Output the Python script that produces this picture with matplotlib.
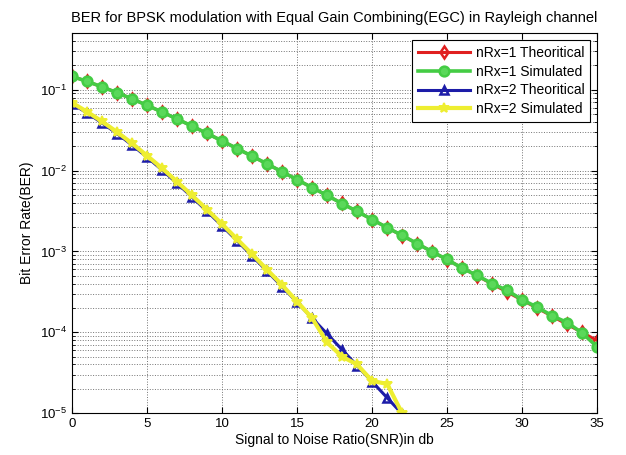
import matplotlib.pyplot as plt
import numpy as np

plt.rcParams['font.family'] = ['Liberation Sans', 'DejaVu Sans']

# Eb/N0 in dB
snr_db = list(range(0, 36))

# nRx=1 theoretical BER
ber_th1 = [0.1464, 0.1267, 0.1085, 0.0919, 0.0771, 0.0642, 0.0530, 0.0435, 0.0355,
           0.0288, 0.0233, 0.01875, 0.01507, 0.01208, 0.00967, 0.00772, 0.00616,
           0.00492, 0.00392, 0.00312, 0.00248, 0.00197, 0.00157, 0.00125, 0.000992,
           0.000789, 0.000627, 0.000498, 0.000396, 0.000315, 0.000250, 0.000199,
           0.000158, 0.000125, 0.0000995, 0.0000790]
# nRx=1 simulated BER
ber_sim1 = [0.1462, 0.1268, 0.1086, 0.0918, 0.0772, 0.0642, 0.0530, 0.0435, 0.0355,
            0.0288, 0.0233, 0.0187, 0.0151, 0.0121, 0.00965, 0.00773, 0.00615,
            0.00493, 0.00390, 0.00313, 0.00248, 0.00197, 0.00158, 0.00125, 0.000990,
            0.000795, 0.000620, 0.000505, 0.000400, 0.000330, 0.000252, 0.000205,
            0.000160, 0.000132, 0.000098, 0.000066]

# nRx=2 theoretical BER (EGC)
ber_th2 = [0.0670, 0.0517, 0.0389, 0.0287, 0.0207, 0.01465, 0.01018, 0.00697, 0.00470,
           0.00314, 0.00207, 0.001356, 0.000881, 0.000570, 0.000367, 0.000235,
           0.000150, 0.0000957, 0.0000609, 0.0000386, 0.0000245, 0.0000155, 0.0000098,
           0.0000062, 0.0000039, 0.0000025, 0.0000016, 0.0000010, 0.00000062,
           0.00000039, 0.00000025, 0.00000016, 0.0000001, 0.000000062, 0.000000039,
           0.000000025]
# nRx=2 simulated BER (EGC), no errors counted beyond 22 dB
snr_sim2 = list(range(0, 23))
ber_sim2 = [0.0690, 0.0535, 0.0405, 0.0300, 0.0217, 0.0153, 0.0107, 0.00730, 0.00493,
            0.00330, 0.00218, 0.00142, 0.000925, 0.000595, 0.000385, 0.000240,
            0.000150, 0.000075, 0.000050, 0.000040, 0.000025, 0.000023, 0.000010]

fig = plt.figure(figsize=(6.26, 4.55), dpi=100)
ax = fig.add_axes([0.115, 0.092, 0.839, 0.835])

ax.semilogy(snr_db, ber_th1, 'd-', color='#e02020', lw=2.2, ms=6, mfc='none',
            mew=1.8, label='nRx=1 Theoritical')
ax.semilogy(snr_db, ber_sim1, 'o-', color='#44cc44', lw=2.6, ms=7, mfc='#5ad85a',
            mew=1.8, label='nRx=1 Simulated')
ax.semilogy(snr_db, ber_th2, '^-', color='#1c1ca8', lw=2.2, ms=6, mfc='none',
            mew=1.8, label='nRx=2 Theoritical')
ax.semilogy(snr_sim2, ber_sim2, '*-', color='#eeee30', lw=3, ms=7,
            mew=1.4, label='nRx=2 Simulated')

ax.set_xlim(0, 35)
ax.set_ylim(1e-5, 0.5)
ax.set_xticks(range(0, 36, 5))
ax.grid(True, which='major', ls=':', color='0.45', lw=0.7)
ax.grid(True, which='minor', axis='y', ls=':', color='0.45', lw=0.7)
ax.tick_params(which='both', direction='in', top=True, right=True, labelsize=9.5)
ax.tick_params(which='major', length=4)
ax.tick_params(which='minor', length=2.5)
for s in ax.spines.values():
    s.set_linewidth(0.8)

ax.set_title('BER for BPSK modulation with Equal Gain Combining(EGC) in Rayleigh channel',
             fontsize=10.5, pad=8)
ax.set_xlabel('Signal to Noise Ratio(SNR)in db', fontsize=10, labelpad=2)
ax.set_ylabel('Bit Error Rate(BER)', fontsize=10, labelpad=4)

leg = ax.legend(loc='upper right', fontsize=10, fancybox=False, framealpha=1,
                edgecolor='black', borderaxespad=0.5, handlelength=3.8,
                labelspacing=0.35, borderpad=0.4, handletextpad=0.4)
leg.get_frame().set_linewidth(0.8)

fig.savefig('out.png', dpi=100)
